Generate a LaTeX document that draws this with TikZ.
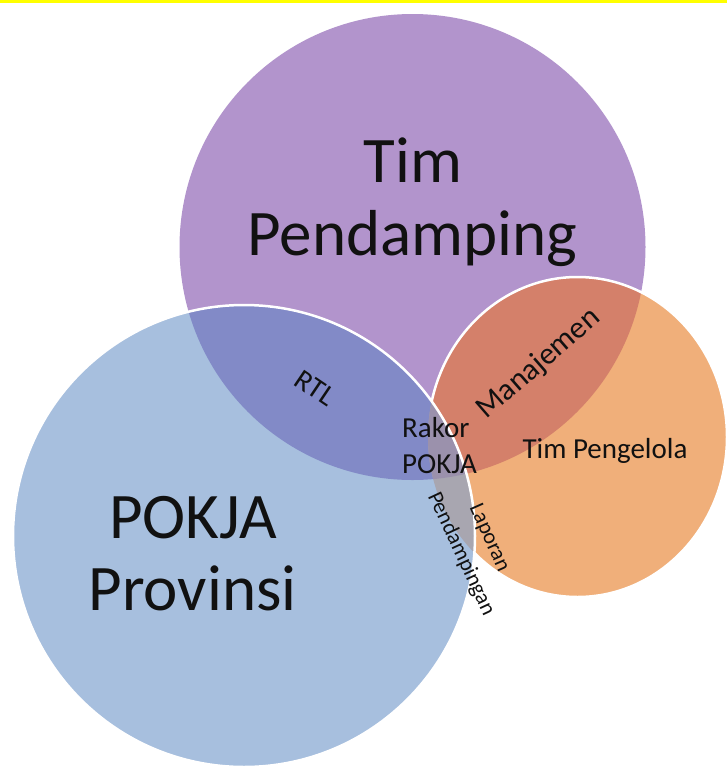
\documentclass[tikz,border=0pt]{standalone}
\usepackage{fontspec}
\setmainfont{Carlito}
\definecolor{cPurple}{HTML}{B294CC}
\definecolor{cBlue}{HTML}{A7BFDE}
\definecolor{cOrange}{HTML}{F0AF7A}
\definecolor{cRTL}{HTML}{828AC7}
\definecolor{cMan}{HTML}{D4806A}
\definecolor{cGrey}{HTML}{A8A6B0}
\definecolor{cTriple}{HTML}{9B91AC}
\definecolor{cBar}{HTML}{FFFF00}
\definecolor{cText}{HTML}{111111}
\newcommand\pPurple{(412.5,247) circle[radius=233pt]}
\newcommand\pBlue{(244,536) circle[radius=231pt]}
\newcommand\pOrange{(577.5,437) ellipse[x radius=149.5pt, y radius=160pt]}
\begin{document}
\begin{tikzpicture}[x=1pt,y=-1pt,
  bigtext/.style={font=\fontsize{65}{73}\selectfont, inner sep=0pt, text=cText},
  midtext/.style={font=\fontsize{29}{35}\selectfont, inner sep=0pt, text=cText},
  smalltext/.style={font=\fontsize{22}{26}\selectfont, inner sep=0pt, text=cText},
  outline/.style={draw=white, line width=2.5pt}]
\useasboundingbox (0,0) rectangle (727,769);
\fill[white] (0,0) rectangle (727,769);
\fill[cBar] (0,0) rectangle (727,2.5);
% base circles
\fill[cPurple] \pPurple;
\fill[cOrange] \pOrange;
\begin{scope}
  \clip \pPurple;
  \fill[cMan] \pOrange;
\end{scope}
\draw[outline] \pOrange;
\fill[cBlue] \pBlue;
\begin{scope}
  \clip \pBlue;
  \fill[cRTL] \pPurple;
  \fill[cGrey] \pOrange;
  \clip \pPurple;
  \fill[cTriple] \pOrange;
\end{scope}
\draw[outline] \pBlue;
% labels
\node[bigtext, anchor=base] (tpA) at (413,182) {Tim};
\node[bigtext, anchor=base] (tpB) at (412.5,255) {Pendamping};
\node[bigtext, anchor=base] (pkA) at (193,538) {POKJA};
\node[bigtext, anchor=base] (pkB) at (192.5,610) {Provinsi};
\node[midtext, anchor=base west] (rkA) at (402,437) {Rakor};
\node[midtext, anchor=base west] (rkB) at (402,473) {POKJA};
\node[midtext, anchor=base] (tpg) at (605,458) {Tim Pengelola};
\node[midtext, rotate=-34] (rtl) at (315,388) {RTL};
\node[midtext, font=\fontsize{31}{36}\selectfont, rotate=41] (man) at (539,364) {Manajemen};
\node[smalltext, rotate=-65] (pdp) at (461,554) {Pendampingan};
\node[smalltext, rotate=-66] (lap) at (489,538) {Laporan};
\end{tikzpicture}
\end{document}
